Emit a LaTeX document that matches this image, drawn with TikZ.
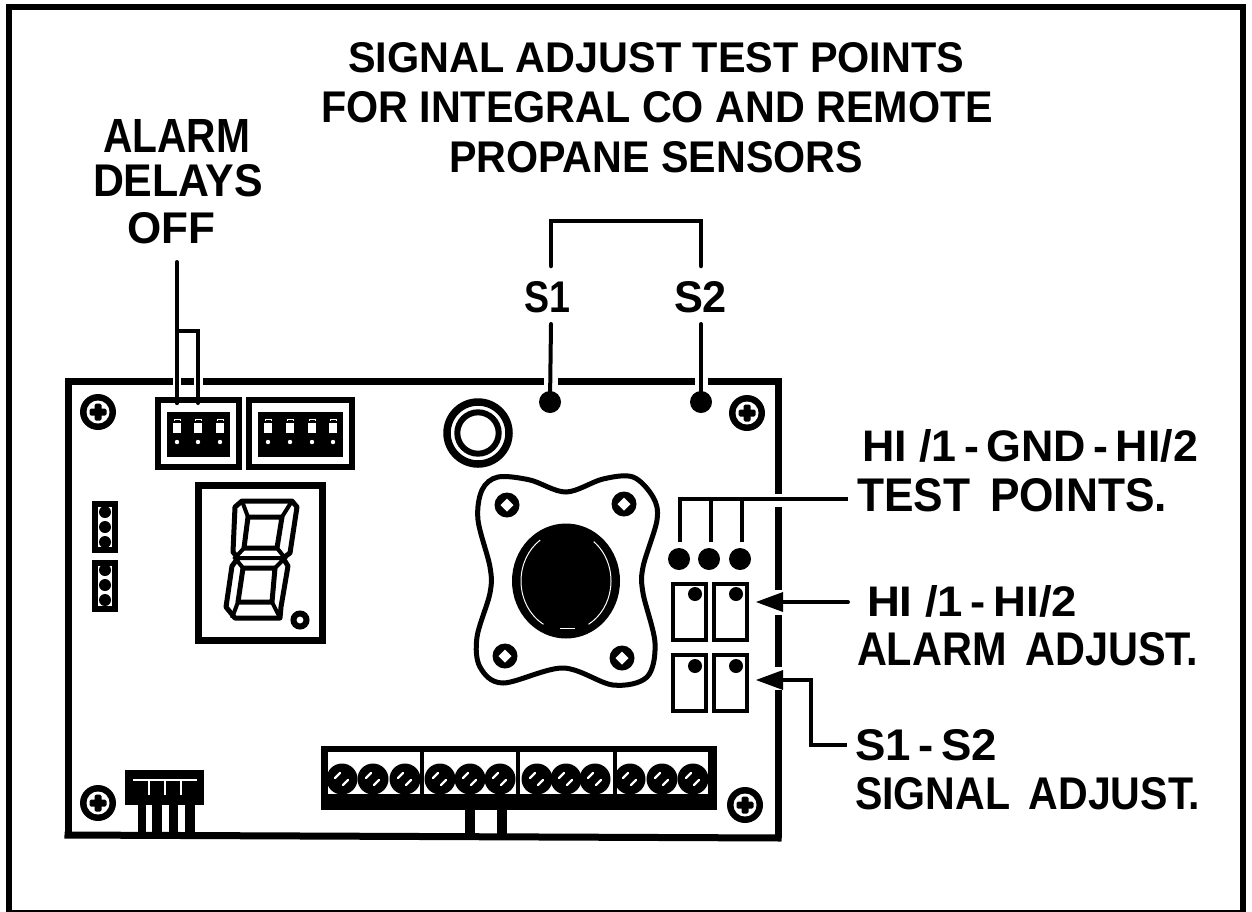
\documentclass[tikz,border=0pt]{standalone}
\usepackage{graphicx}
\usepackage{fontspec}
\setmainfont{Liberation Sans}[BoldFont={Liberation Sans Bold}]
\newcommand{\fitbox}[3]{\resizebox{#1pt}{#2pt}{\bfseries #3}}
\tikzset{
  lab/.style={inner sep=0pt,outer sep=0pt,anchor=south west},
  board/.style={line width=7pt,line cap=butt,line join=miter},
  leader/.style={line width=4pt,line cap=round,line join=miter},
  dotmark/.style={fill=black,draw=none},
  screwpic/.pic={
    \fill[black] (0,0) circle (18);
    \fill[white] (0,0) circle (11.5);
    \fill[black,rounded corners=1.5pt] (-8.5,-3.5) rectangle (8.5,3.5);
    \fill[black,rounded corners=1.5pt] (-3.5,-8.5) rectangle (3.5,8.5);
  },
  termpic/.pic={
    \fill[black] (0,0) circle (15.5);
    \draw[white,line width=2.4pt,line cap=round] (-7,-1) -- (-2,-6);
    \draw[white,line width=2.4pt,line cap=round] (1,6) -- (6,1);
  },
  holepic/.pic={
    \fill[black] (0,0) circle (12.5);
    \fill[white] (-6.5,0) -- (0,-6.5) -- (6.5,0) -- (0,6.5) -- cycle;
  },
  dippic/.pic={
    \fill[white] (-4,-9) rectangle (4,1);
    \draw[white,line width=1pt] (-3,-11) -- (-3,-13) -- (3,-13) -- (3,-11);
    \fill[white] (0,10) circle (2.2);
  },
}
\begin{document}
\begin{tikzpicture}[x=1pt,y=-1pt]
\useasboundingbox (0,0) rectangle (1252,911);
\fill[white] (0,0) rectangle (1252,911);
% outer frame
\draw[line width=6pt,line join=miter] (9,7) -- (1243,7) -- (1243,913) -- (9,913) -- cycle;

% title
\node[lab] (title1) at (348,73) {\fitbox{616}{30}{SIGNAL ADJUST TEST POINTS}};
\node[lab] (title2) at (321,123) {\fitbox{672}{31}{FOR INTEGRAL CO AND REMOTE}};
\node[lab] (title3) at (449,173) {\fitbox{414}{31}{PROPANE SENSORS}};

% alarm label
\node[lab] (alarm) at (103,152) {\fitbox{147}{33}{ALARM}};
\node[lab] (delays) at (93,197) {\fitbox{170}{32}{DELAYS}};
\node[lab] (off) at (127,244) {\fitbox{88}{31}{OFF}};

% S labels
\node[lab] (s1) at (524,313) {\fitbox{46}{31}{S1}};
\node[lab] (s2) at (674,313) {\fitbox{53}{31}{S2}};

% right labels
\node[lab] (hia) at (862,462) {\fitbox{336}{32}{HI /1\,-\,GND\,-\,HI/2}};
\node[lab] (tp) at (857,512) {\fitbox{310}{33}{TEST\hspace{.45em}POINTS.}};
\node[lab] (hib) at (867,617) {\fitbox{210}{31}{HI /1\,-\,HI/2}};
\node[lab] (aa) at (857,666) {\fitbox{341}{33}{ALARM\hspace{.45em}ADJUST.}};
\node[lab] (ss) at (855,761) {\fitbox{142}{31}{S1\,-\,S2}};
\node[lab] (sa) at (855,810) {\fitbox{345}{32}{SIGNAL\hspace{.45em}ADJUST.}};

% board outline
\draw[board] (68,835) -- (68,381) -- (173,381);
\draw[board] (181,381) -- (194,381);
\draw[board] (203,381) -- (544,381);
\draw[board] (558,381) -- (695,381);
\draw[board] (708,381) -- (778,381) -- (778,494);
\draw[board] (778,507) -- (778,590);
\draw[board] (778,615) -- (778,667);
\draw[board] (778,690) -- (778,838);
\draw[board] (64.5,835) -- (781.5,838);

% screws
\pic at (98,412) {screwpic};
\pic at (747,413) {screwpic};
\pic at (98,803) {screwpic};
\pic at (745,805) {screwpic};

% alarm leader and DIP switches
\coordinate (aT) at (177,262);
\coordinate (aK) at (177,331);
\coordinate (aR) at (198,331);
\draw[leader] (aT) -- (177,403);
\draw[leader,line cap=butt] (aK) -- (aR) -- (198,403);
\draw[line width=6.5pt] (158,400) rectangle (239,467);
\fill[black] (167,412) rectangle (230,457);
\draw[line width=6.5pt] (249,400) rectangle (352,467);
\fill[black] (258,412) rectangle (343,457);
\foreach \x in {177,198,220} {\pic at (\x,432) {dippic};}
\foreach \x in {268,290,312,333} {\pic at (\x,432) {dippic};}
\draw[leader] (177,375) -- (177,403);
\draw[leader] (198,375) -- (198,403);

% jumpers
\foreach \y/\a/\b/\c in {501/512/527/542,560/570/585/600}{
  \fill[black] (92,\y) rectangle (118,\y+52);
  \fill[white] (98,\y+6) rectangle (112,\y+46);
  \fill[black] (105,\a) circle (6);
  \fill[black] (105,\b) circle (6);
  \fill[black] (105,\c) circle (6);
}

% display
\draw[line width=7pt,line join=miter] (198,640) -- (198,485) -- (322,485) -- (322,640) -- cycle;
\draw[line width=5pt,line join=round]
  (242,501) -- (292,501) -- (297,507) -- (290,553) -- (283,558) -- (288,566) -- (281,607) -- (280,618)
  -- (235,618) -- (226,607) -- (232,566) -- (238,558) -- (233,552) -- (235,507) -- cycle;
\draw[line width=5pt,line join=round] (248,517) -- (282,517) -- (277,548) -- (244,548) -- cycle;
\draw[line width=5pt,line join=round] (243,568) -- (275,568) -- (272,602) -- (238,602) -- cycle;
\draw[line width=4pt] (242,501) -- (248,517) (292,501) -- (282,517)
  (244,548) -- (235,558) -- (243,568) (277,548) -- (285,558) -- (275,568) (235,558) -- (285,558)
  (238,602) -- (232,618) (272,602) -- (280,618);
\draw[line width=6pt] (300,620) circle (6.5);

% ring
\draw[line width=7.5pt] (478,433) circle (31);
\draw[line width=6pt] (478,433) circle (20.7);

% flange
\draw[line width=5pt] plot[smooth cycle,tension=.55] coordinates {
 (566,492) (603,479) (633,477) (653,497) (657,520) (643,567) (643,593) (655,643)
 (647,677) (613,685) (563,668) (503,683) (480,667) (477,637) (490,593) (490,567)
 (478,520) (482,490) (498,477) (530,480)};
\pic at (507,505) {holepic};
\pic at (624,504) {holepic};
\pic at (505,656) {holepic};
\pic at (622,658) {holepic};

% knob
\fill[black] (566,581) ellipse [x radius=54,y radius=57.5];
\draw[white,line width=1pt] (566,581) ++(120:45 and 50) arc[start angle=120,end angle=235,x radius=45,y radius=50];
\draw[white,line width=1pt] (566,581) ++(-52:45 and 50) arc[start angle=-52,end angle=60,x radius=45,y radius=50];
\draw[white,line width=1pt] (560,628) -- (575,628);

% S1 S2 leaders
\fill[dotmark] (550,402) circle (11) coordinate (dS1);
\fill[dotmark] (701,402) circle (11) coordinate (dS2);
\draw[line width=4.5pt,line cap=round,line join=miter] (551,266) -- (551,221) -- (701,221) -- (701,266);
\draw[leader] (551,324) -- (dS1);
\draw[leader] (701,324) -- (dS2);

% test points
\foreach \x/\n in {679/a,709/b,740/c} {\fill[dotmark] (\x,559) circle (11) coordinate (tp\n);}
\coordinate (tR) at (848,499);
\draw[leader,line cap=butt,line join=miter] (680,542) -- (680,499) -- (tR);
\draw[leader,line cap=butt] (711,499) -- (711,542);
\draw[leader,line cap=butt] (742,499) -- (742,542);

% adjust boxes
\foreach \xa/\xb in {673/706,714/747}{
  \draw[line width=4.5pt,line join=miter] (\xa,584) rectangle (\xb,640);
  \draw[line width=4.5pt,line join=miter] (\xa,655) rectangle (\xb,711);
}
\foreach \x in {695,736}{
  \fill[dotmark] (\x,594) circle (7);
  \fill[dotmark] (\x,666) circle (7);
}

% arrows
\coordinate (aA) at (775,602);
\coordinate (aB) at (775,680);
\fill[black] (756,602) -- (783,592) -- (783,612) -- cycle;
\fill[black] (756,680) -- (783,670) -- (783,690) -- cycle;
\draw[leader] (aA) -- (848,602);
\draw[leader,line cap=butt,line join=miter] (aB) -- (811,680) -- (811,745) -- (847,745);

% terminal block
\fill[black] (321,746) rectangle (717,810);
\foreach \xa/\xb in {328/420,424/516,520/613,617/708}{
  \fill[white] (\xa,752) rectangle (\xb,794);
}
\foreach \x in {342,373,405,440,470,500,537,566,595,630,662,693}{\pic at (\x,779) {termpic};}
\fill[black] (465,810) rectangle (475,835);
\fill[black] (497,810) rectangle (507,835);

% small connector
\fill[black] (125,770) rectangle (204,805);
\draw[white,line width=1.5pt] (133,780) -- (197,780);
\foreach \x in {149,165,181}{\draw[white,line width=1.5pt] (\x,780) -- (\x,795);}
\fill[black] (138,805) rectangle (146,835);
\fill[black] (152,805) rectangle (162,835);
\fill[black] (169,805) rectangle (178,835);
\fill[black] (185,805) rectangle (195,835);
\end{tikzpicture}
\end{document}
